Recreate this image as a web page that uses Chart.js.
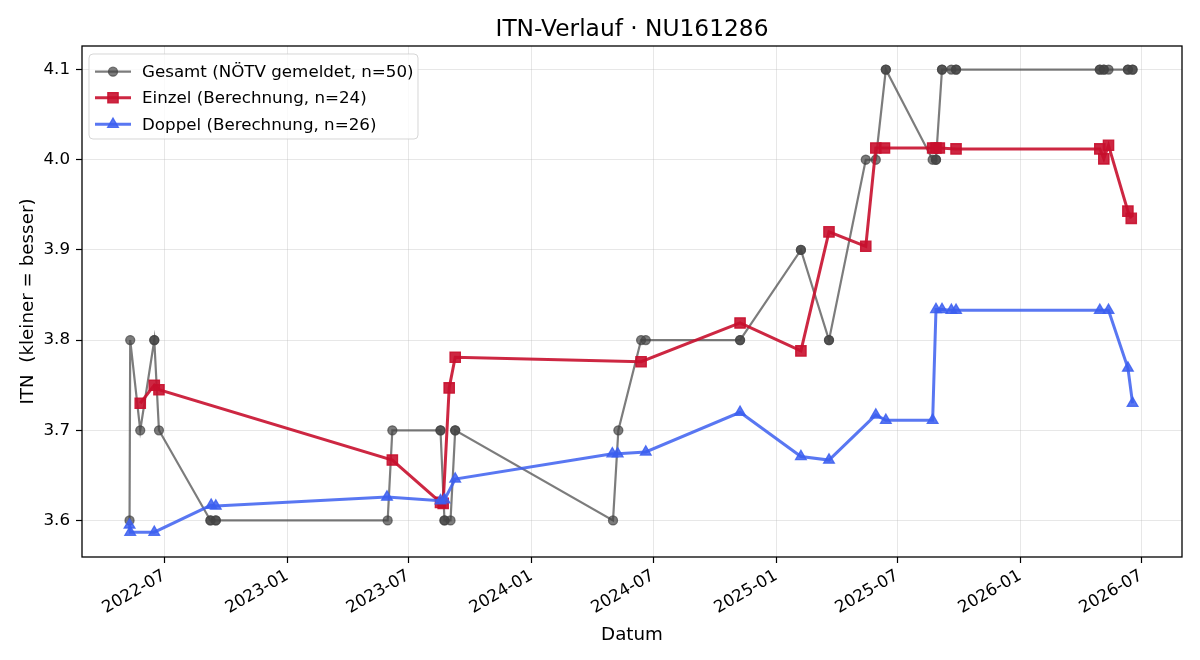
<!DOCTYPE html>
<html>
<head>
<meta charset="utf-8">
<script src="https://cdn.jsdelivr.net/npm/chart.js@4.4.1/dist/chart.umd.min.js"></script>
<style>
  html, body { margin: 0; padding: 0; background: #ffffff; }
  #wrap { width: 1200px; height: 660px; }
</style>
</head>
<body>
<div id="wrap"><canvas id="c" width="1200" height="660"></canvas></div>
<script>
// ---------------- data ----------------
const chartTitle = 'ITN-Verlauf · NU161286';
const xAxisTitle = 'Datum';
const yAxisTitle = 'ITN  (kleiner = besser)';
const seriesNames = ['Gesamt (NÖTV gemeldet, n=50)', 'Einzel (Berechnung, n=24)', 'Doppel (Berechnung, n=26)'];

const gesamtDates = [
  '2022-05-10','2022-05-11','2022-05-26','2022-06-16','2022-06-16','2022-06-23',
  '2022-09-08','2022-09-08','2022-09-16','2022-09-16','2023-05-31','2023-06-07',
  '2023-08-18','2023-08-18','2023-08-24','2023-08-24','2023-09-02','2023-09-09','2023-09-09',
  '2024-05-02','2024-05-10','2024-06-13','2024-06-20','2024-11-08','2024-11-08',
  '2025-02-07','2025-02-07','2025-03-21','2025-03-21','2025-05-15','2025-05-30',
  '2025-06-14','2025-06-14','2025-08-23','2025-08-28','2025-08-28','2025-09-06','2025-09-06',
  '2025-09-20','2025-09-27','2025-09-27','2026-04-30','2026-04-30','2026-05-06','2026-05-06',
  '2026-05-13','2026-06-11','2026-06-11','2026-06-18','2026-06-18'
];
const gesamtValues = [
  3.6, 3.8, 3.7, 3.8, 3.8, 3.7,
  3.6, 3.6, 3.6, 3.6, 3.6, 3.7,
  3.7, 3.7, 3.6, 3.6, 3.6, 3.7, 3.7,
  3.6, 3.7, 3.8, 3.8, 3.8, 3.8,
  3.9, 3.9, 3.8, 3.8, 4.0, 4.0,
  4.1, 4.1, 4.0, 4.0, 4.0, 4.1, 4.1,
  4.1, 4.1, 4.1, 4.1, 4.1, 4.1, 4.1,
  4.1, 4.1, 4.1, 4.1, 4.1
];

const einzelDates = [
  '2022-05-26','2022-06-16','2022-06-23','2023-06-07','2023-08-18','2023-08-22',
  '2023-08-31','2023-09-09','2024-06-13','2024-11-08','2025-02-07','2025-03-21',
  '2025-05-15','2025-05-30','2025-06-12','2025-08-23','2025-08-28','2025-09-02',
  '2025-09-27','2026-04-30','2026-05-06','2026-05-13','2026-06-11','2026-06-16'
];
const einzelValues = [
  3.730, 3.750, 3.745, 3.667, 3.620, 3.619,
  3.747, 3.781, 3.776, 3.819, 3.788, 3.920,
  3.904, 4.013, 4.013, 4.013, 4.013, 4.013,
  4.012, 4.012, 4.001, 4.016, 3.943, 3.935
];

const doppelDates = [
  '2022-05-10','2022-05-11','2022-06-16','2022-09-09','2022-09-16','2023-05-30',
  '2023-08-18','2023-08-24','2023-09-09','2024-05-01','2024-05-09','2024-06-20',
  '2024-11-08','2025-02-07','2025-03-21','2025-05-30','2025-06-14','2025-08-23',
  '2025-08-28','2025-09-06','2025-09-20','2025-09-27','2026-04-30','2026-05-13',
  '2026-06-11','2026-06-18'
];
const doppelValues = [
  3.595, 3.587, 3.587, 3.617, 3.616, 3.626,
  3.622, 3.623, 3.646, 3.674, 3.674, 3.676,
  3.720, 3.671, 3.667, 3.717, 3.711, 3.711,
  3.834, 3.834, 3.833, 3.833, 3.833, 3.833,
  3.769, 3.730
];

const xTickLabels = ['2022-07','2023-01','2023-07','2024-01','2024-07','2025-01','2025-07','2026-01','2026-07'];
const yTickValues = [3.6, 3.7, 3.8, 3.9, 4.0, 4.1];

// ---------------- helpers ----------------
const toDay = s => { const p = s.split('-').map(Number); return Date.UTC(p[0], p[1] - 1, p[2] || 1) / 86400000; };
const xTickValues = xTickLabels.map(l => toDay(l + '-01'));
const pts = (dates, vals) => dates.map((d, i) => ({ x: toDay(d), y: vals[i] }));

const FONT = 'DejaVu Sans';
const colGray = 'rgba(68,68,68,0.7)';
const colRed = 'rgba(200,16,46,0.9)';
const colBlue = 'rgba(60,95,240,0.85)';

const x0 = toDay('2022-07-01');

const datasets = [
  { label: seriesNames[0], data: pts(gesamtDates, gesamtValues), order: 3,
    borderColor: colGray, borderWidth: 2.2, pointStyle: 'circle', pointRadius: 4.5,
    pointBackgroundColor: colGray, pointBorderColor: colGray, pointBorderWidth: 1.3 },
  { label: seriesNames[1], data: pts(einzelDates, einzelValues), order: 2,
    borderColor: colRed, borderWidth: 3, pointStyle: 'rect', pointRadius: 7.3,
    pointBackgroundColor: colRed, pointBorderColor: colRed, pointBorderWidth: 1.3 },
  { label: seriesNames[2], data: pts(doppelDates, doppelValues), order: 1,
    borderColor: colBlue, borderWidth: 3, pointStyle: 'triangle', pointRadius: 6.2,
    pointBackgroundColor: colBlue, pointBorderColor: colBlue, pointBorderWidth: 1.3 }
];
datasets.forEach(d => { d.tension = 0; d.fill = false; d.showLine = true; d.pointHoverRadius = d.pointRadius; });

function drawMarker(ctx, ds, x, y) {
  ctx.fillStyle = ds.pointBackgroundColor;
  ctx.strokeStyle = ds.pointBorderColor;
  ctx.lineWidth = ds.pointBorderWidth;
  Chart.helpers.drawPoint(ctx, { pointStyle: ds.pointStyle, radius: ds.pointRadius, rotation: 0, borderWidth: ds.pointBorderWidth }, x, y);
}

const decor = {
  id: 'decor',
  afterDraw(chart) {
    const ctx = chart.ctx, a = chart.chartArea;
    ctx.save();
    // frame (spines)
    ctx.strokeStyle = '#000';
    ctx.lineWidth = 1.3;
    ctx.strokeRect(a.left, a.top, a.right - a.left, a.bottom - a.top);

    // title
    ctx.fillStyle = '#000';
    ctx.font = '23.3px "' + FONT + '"';
    ctx.textAlign = 'center';
    ctx.textBaseline = 'alphabetic';
    ctx.fillText(chartTitle, (a.left + a.right) / 2, 36);

    // x axis title
    ctx.font = '18.3px "' + FONT + '"';
    ctx.fillText(xAxisTitle, (a.left + a.right) / 2, 640);

    // y axis title
    ctx.save();
    ctx.translate(32.5, (a.top + a.bottom) / 2);
    ctx.rotate(-Math.PI / 2);
    ctx.fillText(yAxisTitle, 0, 0);
    ctx.restore();

    // legend
    const lx = 89, ly = 54, lw = 329, lh = 85, r = 4;
    ctx.beginPath();
    ctx.moveTo(lx + r, ly);
    ctx.lineTo(lx + lw - r, ly); ctx.quadraticCurveTo(lx + lw, ly, lx + lw, ly + r);
    ctx.lineTo(lx + lw, ly + lh - r); ctx.quadraticCurveTo(lx + lw, ly + lh, lx + lw - r, ly + lh);
    ctx.lineTo(lx + r, ly + lh); ctx.quadraticCurveTo(lx, ly + lh, lx, ly + lh - r);
    ctx.lineTo(lx, ly + r); ctx.quadraticCurveTo(lx, ly, lx + r, ly);
    ctx.closePath();
    ctx.fillStyle = 'rgba(255,255,255,0.8)';
    ctx.fill();
    ctx.strokeStyle = 'rgba(204,204,204,0.8)';
    ctx.lineWidth = 1;
    ctx.stroke();

    const rows = [71.7, 97.7, 124.3];
    chart.data.datasets.forEach((ds, i) => {
      const y = rows[i];
      ctx.strokeStyle = ds.borderColor;
      ctx.lineWidth = ds.borderWidth;
      ctx.beginPath();
      ctx.moveTo(95, y); ctx.lineTo(131, y);
      ctx.stroke();
      drawMarker(ctx, ds, 113, y);
      ctx.fillStyle = '#000';
      ctx.font = '16.7px "' + FONT + '"';
      ctx.textAlign = 'left';
      ctx.textBaseline = 'middle';
      ctx.fillText(ds.label, 142, y + 1);
    });
    ctx.restore();
  }
};

Chart.defaults.font.family = FONT;
Chart.defaults.color = '#000';

new Chart(document.getElementById('c'), {
  type: 'line',
  data: { datasets },
  plugins: [decor],
  options: {
    responsive: false,
    animation: false,
    devicePixelRatio: 1,
    events: [],
    layout: { padding: { top: 46, right: 18, left: 0, bottom: 0 } },
    plugins: { legend: { display: false }, tooltip: { enabled: false }, title: { display: false } },
    scales: {
      x: {
        type: 'linear',
        min: x0 - 123.1,
        max: x0 + 1521.9,
        afterBuildTicks: s => { s.ticks = xTickValues.map(v => ({ value: v })); },
        afterFit: s => { s.height = 103; },
        grid: { color: 'rgba(176,176,176,0.3)', lineWidth: 1, tickColor: '#000', tickLength: 6, tickWidth: 1.2 },
        border: { display: false },
        ticks: {
          autoSkip: false, minRotation: 30, maxRotation: 30, padding: 3,
          font: { size: 16.7, family: FONT }, color: '#000',
          callback: v => { const i = xTickValues.indexOf(v); return i >= 0 ? xTickLabels[i] : ''; }
        }
      },
      y: {
        type: 'linear',
        min: 3.5595,
        max: 4.1261,
        afterBuildTicks: s => { s.ticks = yTickValues.map(v => ({ value: v })); },
        afterFit: s => { s.width = 82; },
        grid: { color: 'rgba(176,176,176,0.3)', lineWidth: 1, tickColor: '#000', tickLength: 6, tickWidth: 1.2 },
        border: { display: false },
        ticks: {
          padding: 6,
          font: { size: 16.7, family: FONT }, color: '#000',
          callback: v => Number(v).toFixed(1)
        }
      }
    }
  }
});
</script>
</body>
</html>
